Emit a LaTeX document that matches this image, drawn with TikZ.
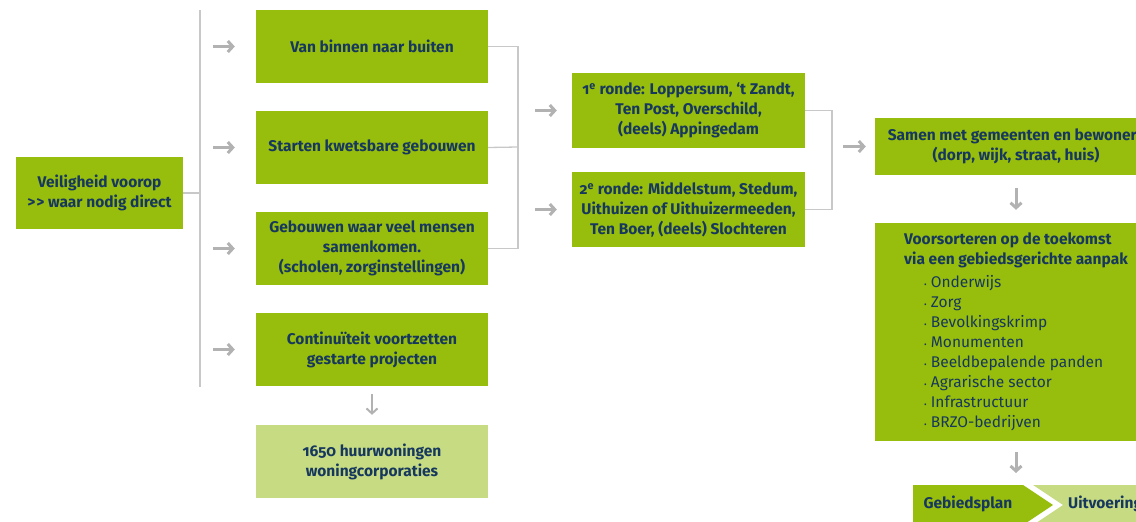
\documentclass[tikz,border=0pt]{standalone}
\usepackage{fontspec}
\setmainfont{Fira Sans}[Numbers=OldStyle]
\usepackage{tikz}
\usetikzlibrary{arrows.meta,positioning}

\definecolor{boxgreen}{RGB}{151,189,13}
\definecolor{lightgreen}{RGB}{199,219,130}
\definecolor{navy}{RGB}{23,56,94}
\definecolor{linegray}{RGB}{200,200,200}
\definecolor{arrowgray}{RGB}{178,178,178}

\newcommand{\bitem}[1]{\hspace*{20pt}{\mdseries{\footnotesize•}\ #1}}

\begin{document}
\begin{tikzpicture}[
    x=1pt, y=-1pt,
    node distance=101pt,
    >={Straight Barb[length=5pt,width=11pt]},
    font=\bfseries\fontsize{15.5}{20}\selectfont,
    box/.style={
		rectangle,
		fill=boxgreen,
		text=navy,
		align=center,
		inner sep=0pt,
		minimum width=232pt,
		minimum height=73pt
	},
	lightbox/.style={
		box,
		fill=lightgreen
	},
	chevtext/.style={
		text=navy,
		inner sep=0pt
	},
	link/.style={
		draw=linegray,
		line width=1.3pt
	},
	spine/.style={
		draw=linegray,
		line width=2.6pt
	},
	arr/.style={
		->,
		draw=arrowgray,
		line width=3pt
	}
  ]
    \path [use as bounding box, clip] (0,0) rectangle (1136,522);

    % first column
  \node [box, minimum width=167pt, minimum height=72pt] (start) at (99.5,193)
 {Veiligheid voorop\\>\kern1pt> waar nodig direct};
  \coordinate (spinetop) at (200,10);
  \coordinate (spinebot) at (200,387);

    % second column
  \node [box] (van) at (372,46.5) {Van binnen naar buiten};
  \node [box, below of=van] (starten) {Starten kwetsbare gebouwen};
  \node [box, below of=starten] (mensen)
 {Gebouwen waar veel mensen\\samenkomen.\\(scholen, zorginstellingen)};
  \node [box, below of=mensen] (continu)
 {Continuïteit voortzetten\\gestarte projecten};
  \node [lightbox, below of=continu, node distance=112pt] (huur)
 {1650 huurwoningen\\woningcorporaties};
  \coordinate (join1) at (518,147);

    % third column
  \node [box, minimum width=233pt, minimum height=75pt] (ronde1) at (688.5,110.5)
 {1\textsuperscript{e} ronde: Loppersum, ‘t Zandt,\\Ten Post, Overschild,\\(deels) Appingedam};
  \node [box, minimum width=233pt, minimum height=75pt, below of=ronde1, node distance=99pt] (ronde2)
 {2\textsuperscript{e} ronde: Middelstum, Stedum,\\Uithuizen of Uithuizermeeden,\\Ten Boer, (deels) Slochteren};
  \coordinate (join2) at (832,160);

    % fourth column
  \node [box, minimum width=282pt, minimum height=57pt] (samen) at (1016,146.5)
 {Samen met gemeenten en bewoners\\(dorp, wijk, straat, huis)};
  \node [box, minimum width=282pt, minimum height=218pt, align=left, below of=samen, node distance=185.5pt] (voor)
 {Voorsorteren op de toekomst\\
  via een gebiedsgerichte aanpak\\[3pt]
  \bitem{Onderwijs}\\
  \bitem{Zorg}\\
  \bitem{Bevolkingskrimp}\\
  \bitem{Monumenten}\\
  \bitem{Beeldbepalende panden}\\
  \bitem{Agrarische sector}\\
  \bitem{Infrastructuur}\\
  \bitem{BRZO-bedrijven}};

    % chevrons at the bottom
  \fill [boxgreen] (913,485) -- (1023,485) -- (1053,505) -- (1023,525) -- (913,525) -- cycle;
  \fill [lightgreen] (1033,485) -- (1140,485) -- (1140,525) -- (1033,525) -- (1063,505) -- cycle;
  \coordinate (plantop) at (1016,485);
  \node [chevtext] (plan) at (968,504) {Gebiedsplan};
  \node [chevtext, anchor=west] (uitvoering) at (1068,504) {Uitvoering};

    % lines and arrows
 \draw [spine] (spinetop) -- (spinebot);
 \draw [link] (start) -- (start -| spinetop);
 \draw [arr, shorten <=13pt, shorten >=21pt] (van -| spinetop) -- (van);
 \draw [arr, shorten <=13pt, shorten >=21pt] (starten -| spinetop) -- (starten);
 \draw [arr, shorten <=13pt, shorten >=21pt] (mensen -| spinetop) -- (mensen);
 \draw [arr, shorten <=13pt, shorten >=21pt] (continu -| spinetop) -- (continu);
 \draw [arr, line width=2pt, shorten <=8pt, shorten >=10pt] (continu) -- (huur);
 \draw [link] (van.east) -| (join1) |- (mensen.east);
 \draw [link] (starten.east) -- (join1);
 \draw [arr, shorten <=17pt, shorten >=15pt] (join1 |- ronde1) -- (ronde1);
 \draw [arr, shorten <=17pt, shorten >=15pt] (join1 |- ronde2) -- (ronde2);
 \draw [link] (ronde1.east) -| (join2) |- (ronde2.east);
 \draw [arr, shorten <=11pt, shorten >=9pt] (join2 |- samen) -- (samen);
 \draw [arr, shorten <=13pt, shorten >=13pt] (samen) -- (voor);
 \draw [arr, shorten <=11pt, shorten >=12pt] (voor.south) -- (plantop);
  
\end{tikzpicture}
\end{document}
